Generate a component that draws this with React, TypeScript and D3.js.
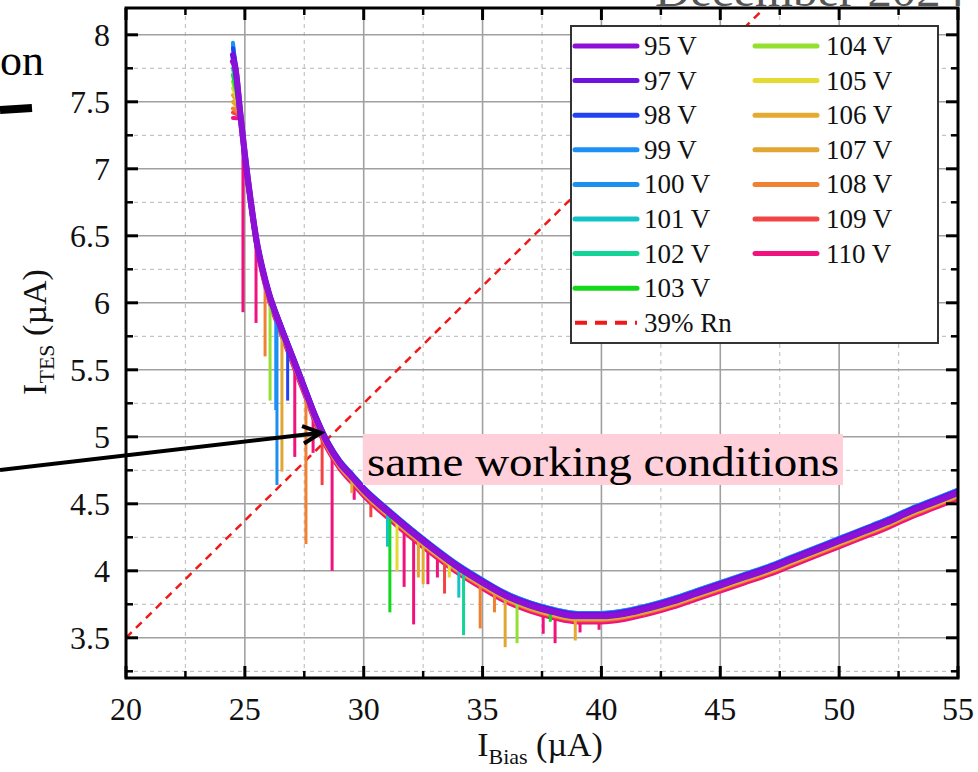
import React from 'react';
import * as d3 from 'd3';

// ---------- data ----------
const curveX = [24.5, 24.6, 24.8, 25.0, 25.25, 25.5, 25.75, 26.0, 26.5, 27.0, 27.5, 28.0, 28.5, 29.0, 29.5, 30, 31, 32, 33, 34, 35, 36, 37, 38, 39, 40, 41, 42, 43, 44, 45, 46, 47, 48, 49, 50, 51, 52, 53, 54, 55];
const curveY = [7.94, 7.75, 7.42, 7.1, 6.75, 6.45, 6.24, 6.07, 5.82, 5.59, 5.36, 5.13, 4.94, 4.8, 4.7, 4.6, 4.44, 4.29, 4.15, 4.02, 3.91, 3.81, 3.74, 3.69, 3.66, 3.66, 3.68, 3.72, 3.77, 3.83, 3.89, 3.95, 4.01, 4.08, 4.15, 4.22, 4.29, 4.36, 4.44, 4.51, 4.58];

const voltages = ['95 V', '97 V', '98 V', '99 V', '100 V', '101 V', '102 V', '103 V', '104 V', '105 V', '106 V', '107 V', '108 V', '109 V', '110 V'];
const seriesTop = [7.8, 7.85, 7.9, 7.94, 7.92, 7.85, 7.75, 7.7, 7.65, 7.6, 7.55, 7.5, 7.45, 7.42, 7.38];
const seriesShift = [0, 0.01, 0.02, 0.025, 0.025, 0.02, 0.01, 0, -0.005, -0.01, -0.015, -0.02, -0.025, -0.03, -0.045];
const seriesDrops: [number, number][][] = [
  [],
  [],
  [[26.8, 5.27]],
  [[26.3, 5.2]],
  [[26.35, 4.64]],
  [[31.0, 4.18], [34.0, 3.8]],
  [[34.2, 3.52]],
  [[31.1, 3.69], [37.85, 3.62]],
  [[26.06, 5.27], [36.45, 3.46]],
  [[31.4, 4.0], [33.6, 3.95]],
  [[29.5, 4.58], [32.5, 3.9], [38.9, 3.48]],
  [[26.56, 4.74], [32.3, 3.95], [35.95, 3.43]],
  [[25.85, 5.6], [27.57, 4.2], [34.9, 3.57], [35.5, 3.69]],
  [[28.25, 4.64], [30.3, 4.4], [33.4, 3.83], [41.8, 3.66]],
  [[24.92, 5.93], [25.47, 5.85], [27.1, 4.85], [27.87, 4.88], [28.67, 4.0], [29.6, 4.53], [31.7, 3.88], [32.1, 3.6], [32.7, 3.9], [33.1, 3.95], [37.55, 3.53], [38.05, 3.46], [39.1, 3.54], [39.9, 3.56]],
];
const rnX = [20, 47];
const rnY = [3.5, 8.225];
const rnLabel = '39% Rn';

const xMajor = [20, 25, 30, 35, 40, 45, 50, 55];
const xMinor = [22.5, 27.5, 32.5, 37.5, 42.5, 47.5, 52.5];
const yMajor = [3.5, 4, 4.5, 5, 5.5, 6, 6.5, 7, 7.5, 8];
const yMinor = [3.25, 3.75, 4.25, 4.75, 5.25, 5.75, 6.25, 6.75, 7.25, 7.75];
const yMajorLabels = ['3.5', '4', '4.5', '5', '5.5', '6', '6.5', '7', '7.5', '8'];

const annotationText = 'same working conditions';
const arrowTarget = [28.2, 5.03];

// ---------- styles ----------
const colors = ['#8c10d6', '#6e12e0', '#2343f2', '#1e8ff5', '#1c90ee', '#12c4c8', '#12d494', '#14d81c', '#94e030', '#e4da30', '#e4aa32', '#e2a632', '#f08032', '#f24444', '#f0127e'];
const FONT = '"Liberation Serif", "Times New Roman", serif';

const W = 978, H = 772;
const PL = 126, PR = 958, PT = 8, PB = 678;

export default function App() {
  const x = d3.scaleLinear().domain([20, 55]).range([PL, PR]);
  const y = d3.scaleLinear().domain([3.2, 8.2]).range([PB, PT]);
  const base = d3.scaleLinear().domain(curveX).range(curveY).clamp(true);
  const line = d3.line<[number, number]>().x(d => x(d[0])).y(d => y(d[1])).curve(d3.curveMonotoneX);
  const straight = d3.line<[number, number]>().x(d => x(d[0])).y(d => y(d[1]));

  const seriesPts = voltages.map((_, i) => {
    const pts: [number, number][] = [[curveX[0], seriesTop[i]]];
    for (let j = 1; j < curveX.length; j++) {
      const v = curveY[j] + seriesShift[i];
      if (v < seriesTop[i]) pts.push([curveX[j], v]);
    }
    return pts;
  });

  const order = d3.range(voltages.length).reverse();

  const legendRows = [0, 1, 2, 3, 4, 5, 6, 7, 8];
  const legY = (r: number) => 46 + r * 34.6;

  const tipX = x(arrowTarget[0]);
  const tipY = y(arrowTarget[1]);
  const sx = 0, sy = 470;
  const ang = Math.atan2(tipY - sy, tipX - sx);
  const ah = 20, aw = 0.45;

  return (
    <svg width={W} height={H} style={{ position: 'absolute', left: 0, top: 0, background: '#fff' }} fontFamily={FONT}>
      <defs>
        <clipPath id="plotclip">
          <rect x={PL} y={PT} width={PR - PL} height={PB - PT} />
        </clipPath>
      </defs>
      <rect x={0} y={0} width={W} height={H} fill="#fff" />

      {/* cut-off header text */}
      <text x={965} y={6} textAnchor="end" fontSize={44} fill="#555" textLength={310} lengthAdjust="spacingAndGlyphs">December 2024</text>
      <text x={44} y={75} textAnchor="end" fontSize={44} fill="#000">on</text>
      <line x1={0} y1={110} x2={32} y2={108} stroke="#000" strokeWidth={8} />

      {/* grid */}
      {xMinor.map(v => <line key={'xm' + v} x1={x(v)} x2={x(v)} y1={PT} y2={PB} stroke="#c4c4c4" strokeWidth={1.2} strokeDasharray="4,4" />)}
      {yMinor.map(v => <line key={'ym' + v} x1={PL} x2={PR} y1={y(v)} y2={y(v)} stroke="#c4c4c4" strokeWidth={1.2} strokeDasharray="4,4" />)}
      {xMajor.map(v => <line key={'xM' + v} x1={x(v)} x2={x(v)} y1={PT} y2={PB} stroke="#a0a0a0" strokeWidth={1.6} />)}
      {yMajor.map(v => <line key={'yM' + v} x1={PL} x2={PR} y1={y(v)} y2={y(v)} stroke="#a0a0a0" strokeWidth={1.6} />)}

      <g clipPath="url(#plotclip)">
        <path d={straight(rnX.map((v, i) => [v, rnY[i]] as [number, number])) || ''} fill="none" stroke="#f01818" strokeWidth={2.5} strokeDasharray="8,6" />
        {order.map(i => (
          <g key={'s' + i}>
            {seriesDrops[i].map((d, k) => (
              <line key={k} x1={x(d[0])} x2={x(d[0])} y1={y(base(d[0]) + seriesShift[i])} y2={y(d[1])} stroke={colors[i]} strokeWidth={3} />
            ))}
            <path d={line(seriesPts[i]) || ''} fill="none" stroke={colors[i]} strokeWidth={i < 2 ? 6 : 4} strokeLinejoin="round" strokeLinecap="round" />
          </g>
        ))}
      </g>

      {/* frame and ticks */}
      <rect x={PL} y={PT} width={PR - PL} height={PB - PT} fill="none" stroke="#000" strokeWidth={3} />
      {xMajor.map(v => (
        <g key={'xt' + v}>
          <line x1={x(v)} x2={x(v)} y1={PB} y2={PB - 12} stroke="#000" strokeWidth={3} />
          <line x1={x(v)} x2={x(v)} y1={PT} y2={PT + 12} stroke="#000" strokeWidth={3} />
        </g>
      ))}
      {xMinor.map(v => (
        <g key={'xtm' + v}>
          <line x1={x(v)} x2={x(v)} y1={PB} y2={PB - 7} stroke="#000" strokeWidth={2.5} />
          <line x1={x(v)} x2={x(v)} y1={PT} y2={PT + 7} stroke="#000" strokeWidth={2.5} />
        </g>
      ))}
      {yMajor.map(v => (
        <g key={'yt' + v}>
          <line x1={PL} x2={PL + 12} y1={y(v)} y2={y(v)} stroke="#000" strokeWidth={3} />
          <line x1={PR} x2={PR - 12} y1={y(v)} y2={y(v)} stroke="#000" strokeWidth={3} />
        </g>
      ))}
      {yMinor.map(v => (
        <g key={'ytm' + v}>
          <line x1={PL} x2={PL + 7} y1={y(v)} y2={y(v)} stroke="#000" strokeWidth={2.5} />
          <line x1={PR} x2={PR - 7} y1={y(v)} y2={y(v)} stroke="#000" strokeWidth={2.5} />
        </g>
      ))}

      {/* tick labels */}
      {xMajor.map(v => (
        <text key={'xl' + v} x={x(v)} y={PB + 42} textAnchor="middle" fontSize={32} fill="#111">{v}</text>
      ))}
      {yMajor.map((v, i) => (
        <text key={'yl' + v} x={PL - 16} y={y(v) + 11} textAnchor="end" fontSize={32} fill="#111">{yMajorLabels[i]}</text>
      ))}

      {/* axis titles */}
      <text x={540} y={756} textAnchor="middle" fontSize={34} fill="#111">
        I<tspan dy={8} fontSize={22}>Bias</tspan><tspan dy={-8}> (µA)</tspan>
      </text>
      <text transform="translate(46,332) rotate(-90)" textAnchor="middle" fontSize={34} fill="#111">
        I<tspan dy={8} fontSize={22}>TES</tspan><tspan dy={-8}> (µA)</tspan>
      </text>

      {/* legend */}
      <rect x={571} y={26} width={367} height={317} fill="#fff" stroke="#333" strokeWidth={2} />
      {voltages.map((lab, i) => {
        const col = i < 8 ? 0 : 1;
        const r = i < 8 ? i : i - 8;
        const lx = col === 0 ? 575 : 755;
        const tx = col === 0 ? 644 : 826;
        return (
          <g key={'lg' + i}>
            <line x1={lx} x2={lx + 62} y1={legY(r)} y2={legY(r)} stroke={colors[i]} strokeWidth={5} strokeLinecap="round" />
            <text x={tx} y={legY(r) + 9} fontSize={27} fill="#111">{lab}</text>
          </g>
        );
      })}
      <line x1={575} x2={637} y1={legY(legendRows[8])} y2={legY(legendRows[8])} stroke="#f01818" strokeWidth={4} strokeDasharray="12,8" />
      <text x={644} y={legY(8) + 9} fontSize={27} fill="#111">{rnLabel}</text>

      {/* annotation */}
      <rect x={363} y={434} width={480} height={51} fill="#ffd0d9" />
      <text x={367} y={476} fontSize={42} fill="#000" textLength={472} lengthAdjust="spacingAndGlyphs">{annotationText}</text>
      <line x1={sx} y1={sy} x2={tipX} y2={tipY} stroke="#000" strokeWidth={4} />
      <path d={`M${tipX - ah * Math.cos(ang - aw)},${tipY - ah * Math.sin(ang - aw)} L${tipX},${tipY} L${tipX - ah * Math.cos(ang + aw)},${tipY - ah * Math.sin(ang + aw)}`} fill="none" stroke="#000" strokeWidth={4} strokeLinejoin="miter" />
    </svg>
  );
}
